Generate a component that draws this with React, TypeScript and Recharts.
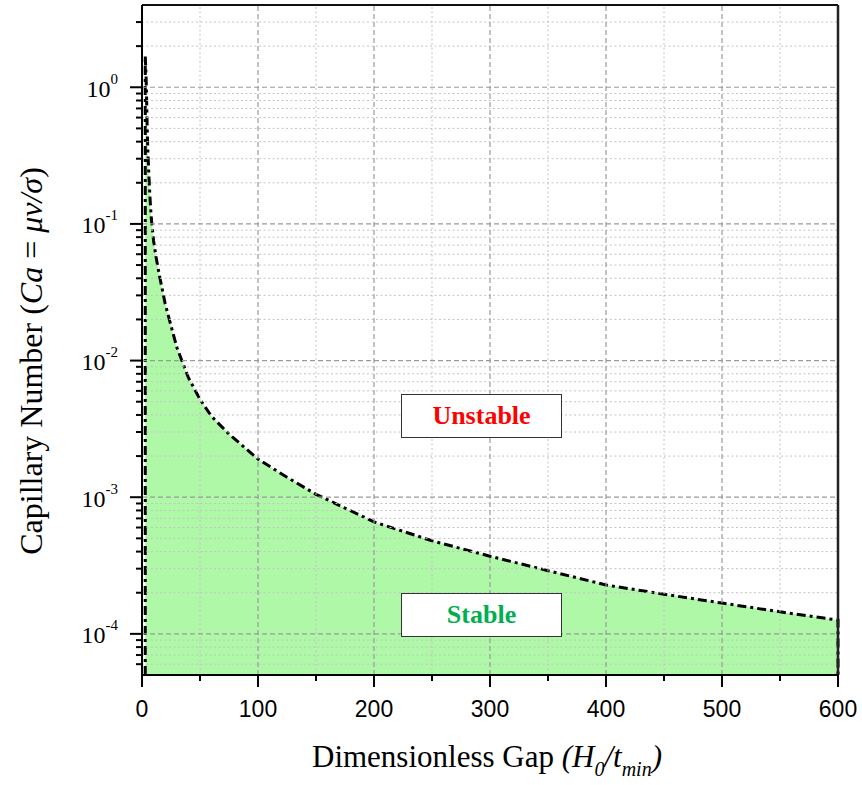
import React from "react";
import { ComposedChart, Area, XAxis, YAxis, ReferenceLine } from "recharts";

// values (stable / unstable boundary)
const gap = [2.8, 2.8, 3.5, 4, 4.5, 5, 6, 7, 8, 10, 12, 15, 20, 25, 30, 40, 50, 60, 75, 100, 125, 150, 200, 250, 300, 350, 400, 450, 500, 550, 600, 600];
const capillary = [5e-5, 1.7, 1.2, 0.8, 0.5, 0.35, 0.22, 0.15, 0.11, 0.075, 0.058, 0.042, 0.026, 0.018, 0.0125, 0.0075, 0.0052, 0.0039, 0.0029, 0.0019, 0.0014, 0.00105, 0.00066, 0.00048, 0.00037, 0.00029, 0.000228, 0.000195, 0.000168, 0.000145, 0.000126, 5e-5];

const xMajor = [0, 100, 200, 300, 400, 500, 600];
const xMinor = [50, 150, 250, 350, 450, 550];
const yMajor = [1e-4, 1e-3, 1e-2, 1e-1, 1];
const yExp = ["-4", "-3", "-2", "-1", "0"];
const yMinor = [
  6e-5, 7e-5, 8e-5, 9e-5,
  2e-4, 3e-4, 4e-4, 5e-4, 6e-4, 7e-4, 8e-4, 9e-4,
  2e-3, 3e-3, 4e-3, 5e-3, 6e-3, 7e-3, 8e-3, 9e-3,
  2e-2, 3e-2, 4e-2, 5e-2, 6e-2, 7e-2, 8e-2, 9e-2,
  0.2, 0.3, 0.4, 0.5, 0.6, 0.7, 0.8, 0.9,
  2, 3,
];
const yDomain = [5e-5, 4];

const data = gap.map((x, i) => ({ x, ca: capillary[i] }));

const SERIF = "'Liberation Serif', 'Times New Roman', serif";
const SANS = "'Liberation Sans', Arial, sans-serif";

function YTick(props: any) {
  const { x, y, payload } = props;
  const i = yMajor.indexOf(payload.value);
  if (i < 0) return <line x1={x - 6} x2={x} y1={y} y2={y} stroke="#000" strokeWidth={2} />;
  return (
    <g>
      <line x1={x - 12} x2={x} y1={y} y2={y} stroke="#000" strokeWidth={2} />
      <text x={x - 24} y={y + 9.5} textAnchor="end" fontFamily={SERIF} fontSize={24} fill="#000">
        <tspan>10</tspan>
        <tspan fontSize={15} dy={-13}>{yExp[i]}</tspan>
      </text>
    </g>
  );
}

function XTick(props: any) {
  const { x, y, payload } = props;
  const major = xMajor.includes(payload.value);
  return (
    <g>
      <line x1={x} x2={x} y1={y} y2={y + (major ? 12 : 6)} stroke="#000" strokeWidth={2} />
      {major && (
        <text x={x} y={y + 42} textAnchor="middle" fontFamily={SANS} fontSize={23} fill="#000">
          {payload.value}
        </text>
      )}
    </g>
  );
}

function XTitle() {
  return (
    <text x={487} y={767} textAnchor="middle" fontFamily={SERIF} fontSize={31} fill="#000">
      <tspan>Dimensionless Gap </tspan>
      <tspan fontStyle="italic">(H</tspan>
      <tspan fontStyle="italic" fontSize={20} dy={9}>0</tspan>
      <tspan fontStyle="italic" dy={-9}>/t</tspan>
      <tspan fontStyle="italic" fontSize={20} dy={9}>min</tspan>
      <tspan fontStyle="italic" dy={-9}>)</tspan>
    </text>
  );
}

function YTitle() {
  return (
    <text transform="rotate(-90)" x={-361} y={42} textAnchor="middle" fontFamily={SERIF} fontSize={32} fill="#000">
      <tspan>Capillary Number (</tspan>
      <tspan fontStyle="italic">Ca</tspan>
      <tspan> = </tspan>
      <tspan fontStyle="italic">μv/σ</tspan>
      <tspan>)</tspan>
    </text>
  );
}

const boxStyle: React.CSSProperties = {
  position: "absolute",
  left: 401,
  width: 161,
  height: 44,
  boxSizing: "border-box",
  border: "1.5px solid #333",
  background: "#fff",
  fontFamily: SERIF,
  fontWeight: "bold",
  fontSize: 26,
  lineHeight: "41px",
  textAlign: "center",
};

export default function App() {
  return (
    <div style={{ position: "relative", width: 862, height: 785, background: "#fff" }}>
      <style>{`body{margin:0}`}</style>
      <ComposedChart width={862} height={785} data={data} margin={{ top: 5, right: 24, left: 62, bottom: 50 }}>
        <XAxis
          dataKey="x"
          type="number"
          domain={[0, 600]}
          ticks={[...xMajor, ...xMinor].sort((a, b) => a - b)}
          interval={0}
          height={60}
          tickSize={0}
          tickMargin={0}
          tickLine={false}
          tick={<XTick />}
          axisLine={{ stroke: "#000", strokeWidth: 2 }}
          label={<XTitle />}
        />
        <YAxis
          type="number"
          scale="log"
          domain={yDomain}
          allowDataOverflow
          ticks={[...yMinor, ...yMajor].sort((a, b) => a - b)}
          interval={0}
          width={80}
          tickSize={0}
          tickMargin={0}
          tickLine={false}
          tick={<YTick />}
          axisLine={{ stroke: "#000", strokeWidth: 2 }}
          label={<YTitle />}
        />
        {xMinor.map((v) => (
          <ReferenceLine key={"xm" + v} x={v} stroke="#c4c4c4" strokeDasharray="2 2.5" />
        ))}
        {yMinor.map((v) => (
          <ReferenceLine key={"ym" + v} y={v} stroke="#c4c4c4" strokeDasharray="2 2.5" />
        ))}
        {xMajor.slice(1, -1).map((v) => (
          <ReferenceLine key={"xM" + v} x={v} stroke="#9a9a9a" strokeWidth={1.2} strokeDasharray="5 3" />
        ))}
        {yMajor.map((v) => (
          <ReferenceLine key={"yM" + v} y={v} stroke="#9a9a9a" strokeWidth={1.2} strokeDasharray="5 3" />
        ))}
        <Area
          dataKey="ca"
          type="linear"
          baseValue={5e-5}
          fill="rgb(147,246,139)"
          fillOpacity={0.75}
          stroke="#000"
          strokeWidth={3}
          strokeDasharray="9 4 3 4"
          dot={false}
          activeDot={false}
          isAnimationActive={false}
        />
        <ReferenceLine y={4} stroke="#111" strokeWidth={2} />
        <ReferenceLine x={600} stroke="#222" strokeWidth={2.5} />
      </ComposedChart>
      <div style={{ ...boxStyle, top: 394, color: "#ff0000" }}>Unstable</div>
      <div style={{ ...boxStyle, top: 593, color: "#00b050" }}>Stable</div>
    </div>
  );
}
